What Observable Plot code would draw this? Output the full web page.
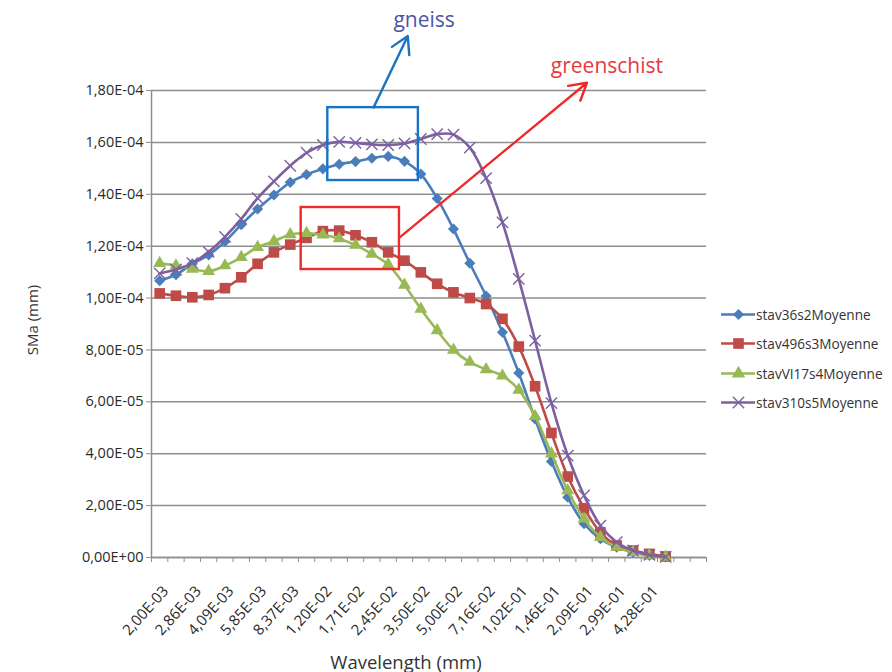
<!DOCTYPE html>
<html>
<head>
<meta charset="utf-8">
<script src="https://cdn.jsdelivr.net/npm/d3@7"></script>
<script src="https://cdn.jsdelivr.net/npm/@observablehq/plot@0.6"></script>
<style>
  html, body { margin: 0; padding: 0; background: #fff; }
  #wrap { position: relative; width: 892px; height: 672px; font-family: "Open Sans", "Noto Sans", sans-serif; color: #333; }
  .ov { position: absolute; white-space: nowrap; }
  .leg { position: absolute; left: 721px; font-size: 13.6px; display: flex; align-items: center; }
  .leg svg { margin-right: 1px; }
</style>
</head>
<body>
<div id="wrap"></div>
<script>
// ---- data ----
const categories = ["2,00E-03","2,39E-03","2,86E-03","3,42E-03","4,09E-03","4,89E-03","5,85E-03","7,00E-03",
  "8,37E-03","1,00E-02","1,20E-02","1,43E-02","1,71E-02","2,05E-02","2,45E-02","2,93E-02","3,50E-02","4,19E-02",
  "5,00E-02","5,98E-02","7,16E-02","8,56E-02","1,02E-01","1,22E-01","1,46E-01","1,75E-01","2,09E-01","2,50E-01",
  "2,99E-01","3,58E-01","4,28E-01","5,12E-01","6,12E-01","7,32E-01"];
const seriesNames = ["stav36s2Moyenne","stav496s3Moyenne","stavVI17s4Moyenne","stav310s5Moyenne"];
const stav36s2 = [1.067,1.090,1.132,1.166,1.218,1.283,1.343,1.397,1.446,1.476,1.498,1.516,1.526,1.539,1.546,1.527,
  1.478,1.384,1.266,1.134,1.008,0.868,0.711,0.534,0.370,0.232,0.130,0.072,0.040,0.020,0.008,0.002];
const stav496s3 = [1.018,1.009,1.003,1.012,1.038,1.080,1.132,1.176,1.206,1.232,1.258,1.260,1.242,1.215,1.176,1.144,
  1.099,1.055,1.022,1.000,0.977,0.920,0.813,0.660,0.480,0.312,0.190,0.097,0.046,0.027,0.014,0.004];
const stavVI17s4 = [1.134,1.125,1.112,1.103,1.125,1.157,1.196,1.219,1.245,1.250,1.244,1.229,1.204,1.170,1.129,1.050,
  0.958,0.875,0.800,0.753,0.725,0.700,0.646,0.544,0.400,0.258,0.149,0.078,0.040,0.020,0.008,0.002];
const stav310s5 = [1.095,1.110,1.135,1.178,1.236,1.305,1.385,1.450,1.510,1.560,1.590,1.602,1.598,1.592,1.590,1.596,
  1.613,1.632,1.630,1.580,1.462,1.292,1.074,0.836,0.595,0.393,0.239,0.123,0.059,0.027,0.010,0.002];
const valueScale = 1e-4;
const yTicks = [0, 2e-5, 4e-5, 6e-5, 8e-5, 1e-4, 1.2e-4, 1.4e-4, 1.6e-4, 1.8e-4];
const labelledIdx = [0,2,4,6,8,10,12,14,16,18,20,22,24,26,28,30];
const colors = ["#4A7EBB","#BE4B48","#98B954","#7D60A0"];
const symbols = ["diamond2","square","triangle","times"];
// annotations (boxes, arrows, labels) in category-index / value coordinates
const annBoxes = [
  {x1: 10.3, x2: 15.85, y1: 1.453e-4, y2: 1.734e-4, color: "#1a74c2"},
  {x1: 8.67, x2: 14.69, y1: 1.110e-4, y2: 1.349e-4, color: "#ee2a2a"}
];
const annArrows = [
  {x1: 13.1, y1: 1.734e-4, x2: 15.2, y2: 2.01e-4, color: "#1a74c2"},
  {x1: 14.69, y1: 1.233e-4, x2: 26.18, y2: 1.83e-4, color: "#ee2a2a"}
];
const annLabels = [
  {x: 16.2, y: 2.07e-4, text: "gneiss", color: "#4a55a6"},
  {x: 27.4, y: 1.895e-4, text: "greenschist", color: "#e8383d"}
];

// ---- build ----
const all = [stav36s2, stav496s3, stavVI17s4, stav310s5];
const rows = [];
all.forEach((arr, s) => arr.forEach((v, i) => rows.push({i, v: v * valueScale, s: seriesNames[s]})));
const boundaries = d3.range(categories.length + 1).map(k => k - 0.5);

function fmtE(v) {
  if (v === 0) return "0,00E+00";
  const [m, e] = v.toExponential(2).split("e");
  const n = +e;
  return m.replace(".", ",") + "E" + (n < 0 ? "-" : "+") + String(Math.abs(n)).padStart(2, "0");
}

const gridColor = "#8e8e8e";
const marks = [
  Plot.gridY(yTicks, {stroke: gridColor, strokeOpacity: 1, strokeWidth: 1.5}),
  Plot.axisY(yTicks, {tickFormat: fmtE, tickSize: 5, tickPadding: 3, stroke: gridColor, label: null, fontSize: 14.5, fill: "#2a2a2a"}),
  Plot.ruleX([boundaries[0]], {stroke: gridColor, strokeWidth: 1.5}),
  Plot.ruleY([0], {stroke: gridColor, strokeWidth: 1.5}),
  Plot.axisX(boundaries, {tickSize: 5, tickFormat: () => "", stroke: gridColor, label: null}),
  Plot.axisX(labelledIdx, {tickSize: 0, tickPadding: 31, dx: 6, tickFormat: i => categories[i], tickRotate: -48, label: null, fontSize: 15, fill: "#2a2a2a"})
];
seriesNames.forEach((name, s) => {
  const d = rows.filter(r => r.s === name);
  marks.push(Plot.line(d, {x: "i", y: "v", stroke: colors[s], strokeWidth: 2.6, curve: "catmull-rom"}));
  if (symbols[s] === "times") {
    marks.push(Plot.dot(d, {x: "i", y: "v", symbol: "times", stroke: colors[s], strokeWidth: 1.4, r: 5.2}));
  } else {
    const r = symbols[s] === "square" ? 6.0 : symbols[s] === "triangle" ? 4.8 : 5.0;
    marks.push(Plot.dot(d, {x: "i", y: "v", symbol: symbols[s], fill: colors[s], stroke: "none", r}));
  }
});
marks.push(Plot.rect(annBoxes, {x1: "x1", x2: "x2", y1: "y1", y2: "y2", fill: "none", stroke: "color", strokeWidth: 2.4, clip: false}));
marks.push(Plot.arrow(annArrows, {x1: "x1", y1: "y1", x2: "x2", y2: "y2", stroke: "color", strokeWidth: 2.4, headLength: 12, clip: false}));
marks.push(Plot.text(annLabels, {x: "x", y: "y", text: "text", fill: "color", fontSize: 21, clip: false}));

const chart = Plot.plot({
  width: 892, height: 672,
  marginLeft: 151, marginRight: 186, marginTop: 90, marginBottom: 115,
  x: {type: "linear", domain: [boundaries[0], boundaries[boundaries.length - 1]]},
  y: {domain: [0, 1.8e-4]},
  color: {type: "identity"},
  style: {fontFamily: "'Open Sans', 'Noto Sans', sans-serif", fontSize: "12px", color: "#2a2a2a", background: "#fff", overflow: "visible"},
  marks
});
const wrap = document.getElementById("wrap");
wrap.appendChild(chart);

// axis titles
const yt = document.createElement("div");
yt.className = "ov"; yt.textContent = "SMa (mm)";
yt.style.cssText += "left:32px;top:320px;font-size:15px;transform:translate(-50%,-50%) rotate(-90deg);";
wrap.appendChild(yt);
const xt = document.createElement("div");
xt.className = "ov"; xt.textContent = "Wavelength (mm)";
xt.style.cssText += "left:406px;top:661px;font-size:18.5px;transform:translate(-50%,-50%);";
wrap.appendChild(xt);

// legend
const legY = [314, 343, 373, 402];
seriesNames.forEach((name, s) => {
  const div = document.createElement("div");
  div.className = "leg";
  div.style.top = (legY[s] - 10) + "px";
  const sw = Plot.plot({
    width: 34, height: 20, margin: 0,
    x: {domain: [0, 1], axis: null}, y: {domain: [0, 1], axis: null},
    marks: [
      Plot.ruleY([0.5], {stroke: colors[s], strokeWidth: 2.6}),
      symbols[s] === "times"
        ? Plot.dot([0.5], {x: d => d, y: 0.5, symbol: "times", stroke: colors[s], strokeWidth: 1.4, r: 5.2})
        : Plot.dot([0.5], {x: d => d, y: 0.5, symbol: symbols[s], fill: colors[s], r: symbols[s] === "square" ? 6 : 5})
    ]
  });
  div.appendChild(sw);
  const t = document.createElement("span");
  t.textContent = name;
  div.appendChild(t);
  wrap.appendChild(div);
});
</script>
</body>
</html>
